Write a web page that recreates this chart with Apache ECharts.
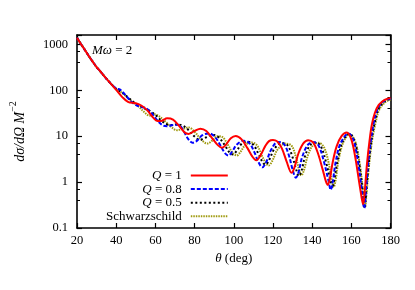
<!DOCTYPE html>
<html><head><meta charset="utf-8">
<script src="https://cdn.jsdelivr.net/npm/echarts@6/dist/echarts.min.js"></script>
<style>html,body{margin:0;padding:0;background:#fff}#c{width:415px;height:290px}</style>
</head><body><div id="c"></div>
<script>
var xTicks = [20, 40, 60, 80, 100, 120, 140, 160, 180];
var yTicks = [0.1, 1, 10, 100, 1000];
var seriesNames = ['Q = 1', 'Q = 0.8', 'Q = 0.5', 'Schwarzschild'];

var q1 = [[20,1400],[22,1020],[24,760],[26,560],[28,420],[30,320],[32,255],[34,200],[36,160],[38,128],[40,102],[43,72],[46,56],[50,52],[53,46],[56,36],[59,25],[61,21.5],[63,21.5],[66,24.5],[69,23],[72,17],[75,12],[77,11.2],[80,13],[83,14.6],[86,13],[89,9],[92,6.3],[94,5.6],[96,6.5],[98.5,9],[101,10.1],[104,8.5],[107,5.5],[109.5,3.6],[111.5,3],[113.5,3.7],[116,6],[118,7.8],[120,8.3],[122,7.8],[124.5,5.5],[127,2.8],[129.5,1.6],[131,2.1],[133,4.2],[135.5,7],[138,8.2],[140.5,7.3],[143,4.2],[145.5,1.8],[147,1.05],[148,0.87],[149,1.15],[150.5,2.7],[152.5,6],[155,10],[157.7,12],[160,8.5],[162,3.5],[164,1.0],[165.3,0.45],[166,0.33],[166.8,0.6],[168,2.5],[169.3,8],[170.5,18],[172,32],[174,48],[177,62],[180,68]];
var q08 = [[20,1400],[22,1020],[24,760],[26,560],[28,420],[30,320],[32,255],[34,200],[36,160],[38,130],[40,110],[42,103],[44,85],[46,68],[48,55],[50,48],[52,44],[55,41],[58,32],[61,22],[64,17],[66,16.5],[69,17.5],[71.5,17.8],[74,14],[76.5,9],[79,7.2],[81,7.8],[84,10.5],[87.5,11.5],[90.5,9.5],[93,6.5],[95.5,4.3],[97.3,3.8],[99,4.5],[101.5,6.5],[105,8],[108,7],[110.5,4.5],[112.5,2.8],[114.6,2.1],[116.5,2.7],[119,5],[122.5,7.5],[125.5,6.8],[128,4],[130,1.9],[131.7,1.25],[133,1.6],[135,3.6],[138,6.6],[141,7.4],[143.5,6],[146,2.8],[148.3,1.1],[149.5,0.68],[150.5,1.0],[152,2.7],[154.5,7],[158.7,11.5],[161,8.5],[163,3.5],[165,0.9],[166.6,0.27],[167.4,0.6],[168.5,2.3],[170,8],[171.5,20],[173.5,40],[176.5,58],[180,66]];
var q05 = [[20,1400],[22,1020],[24,760],[26,560],[28,420],[30,320],[32,255],[34,200],[36,160],[38,130],[40,108],[43,90],[46,70],[49,55],[52,46],[55,39],[57.5,35],[60,29],[63,22],[66,18],[68,17.5],[71,18],[74,17],[77,13.5],[80,9.8],[82.5,8.3],[85,9],[87.5,10.3],[90,10.6],[93,8.8],[96,5.8],[98,4.3],[99.5,4],[101.5,4.8],[104,6.8],[107,7.6],[110,6.5],[113,3.8],[115,2.6],[116.3,2.4],[118,3.0],[121,5.5],[124.5,7.1],[127.5,6.3],[130,3.5],[132,1.8],[133.2,1.35],[134.5,1.7],[136.5,3.8],[139,6.4],[142,7.3],[144.5,6],[147,2.8],[149.3,1.1],[150.3,0.74],[151.3,1.1],[153,3],[155.5,7.5],[159,11.3],[161.5,8.2],[163.5,3.5],[165.3,1.0],[166.8,0.27],[167.6,0.6],[168.8,2.3],[170.3,8],[172,20],[174,40],[177,57],[180,65]];
var schw = [[20,1400],[22,1020],[24,760],[26,560],[28,420],[30,320],[32,255],[34,200],[36,160],[38,128],[40,106],[43,88],[46,68],[49,53],[52,42],[54.5,33],[57,28],[59.5,30],[62,27],[65,21],[68,16],[71,13.5],[74,14.5],[77,15.5],[80,12.5],[83,8.8],[86.5,6.9],[89,8],[91.5,10],[94,9.7],[97,6.5],[99.5,4.3],[101.6,3.8],[103.5,4.6],[106,6.5],[109,7.3],[112,6.2],[115,3.3],[117.8,2.3],[119.5,2.8],[122.5,5.2],[126.5,6.9],[129.5,6.2],[131.5,3.8],[133.3,1.9],[134.5,1.4],[135.8,1.8],[137.8,3.8],[140.5,6.4],[143.3,7.2],[146,5.8],[148.3,2.8],[150,1.1],[151,0.78],[152,1.1],[153.5,3],[156,7.5],[159.3,11],[161.8,8],[163.8,3.4],[165.5,1.0],[167,0.28],[167.8,0.6],[169,2.2],[170.5,7.5],[172.3,19],[174.3,38],[177.3,55],[180,63]];

var FONT = 'Liberation Serif';
var chart = echarts.init(document.getElementById('c'), null, {renderer: 'canvas'});
function yFmt(v) {
  for (var i = 0; i < yTicks.length; i++) { if (Math.abs(v - yTicks[i]) < 1e-9 * yTicks[i] + 1e-12) return String(yTicks[i]); }
  return '';
}
var axisLineStyle = {color: '#000', width: 1.6};
var option = {
  animation: false,
  backgroundColor: '#fff',
  grid: {left: 72.5, right: 24.5, top: 35, bottom: 62, containLabel: false},
  xAxis: [{
    type: 'value', min: 20, max: 180, interval: 20, position: 'bottom',
    axisLine: {show: true, lineStyle: axisLineStyle},
    axisTick: {show: true, inside: true, length: 5, lineStyle: {color: '#000', width: 1.2}},
    axisLabel: {fontFamily: FONT, fontSize: 12.5, color: '#000', margin: 6},
    splitLine: {show: false},
    name: '{i|θ} (deg)', nameLocation: 'middle', nameGap: 24,
    nameTextStyle: {fontFamily: FONT, fontSize: 13, color: '#000', rich: {i: {fontFamily: FONT, fontStyle: 'italic', fontSize: 13, color: '#000'}}}
  }, {
    type: 'value', min: 20, max: 180, interval: 20, position: 'top',
    axisLine: {show: true, lineStyle: axisLineStyle},
    axisTick: {show: true, inside: true, length: 5, lineStyle: {color: '#000', width: 1.2}},
    axisLabel: {show: false}, splitLine: {show: false}
  }],
  yAxis: [{
    type: 'log', logBase: 10, min: 0.1, max: 1600, position: 'left',
    axisLine: {show: true, lineStyle: axisLineStyle},
    axisTick: {show: true, inside: true, length: 5, lineStyle: {color: '#000', width: 1.2}},
    minorTick: {show: true, splitNumber: 3, length: 3, lineStyle: {color: '#000', width: 1}},
    axisLabel: {fontFamily: FONT, fontSize: 12.5, color: '#000', margin: 9, formatter: yFmt, showMaxLabel: false},
    splitLine: {show: false},
    name: '{i|dσ/dΩ M}{s|−2}', nameLocation: 'middle', nameGap: 50, nameRotate: 90,
    nameTextStyle: {fontFamily: FONT, fontSize: 14, color: '#000', rich: {
      i: {fontFamily: FONT, fontStyle: 'italic', fontSize: 14, color: '#000', lineHeight: 19, verticalAlign: 'bottom'},
      s: {fontFamily: FONT, fontSize: 10, color: '#000', lineHeight: 19, verticalAlign: 'top'}}}
  }, {
    type: 'log', logBase: 10, min: 0.1, max: 1600, position: 'right',
    axisLine: {show: true, lineStyle: axisLineStyle},
    axisTick: {show: true, inside: true, length: 5, lineStyle: {color: '#000', width: 1.2}},
    minorTick: {show: true, splitNumber: 3, length: 3, lineStyle: {color: '#000', width: 1}},
    axisLabel: {show: false}, splitLine: {show: false}
  }],
  legend: {
    orient: 'vertical', align: 'right', left: 101, top: 164,
    itemWidth: 37, itemHeight: 12, itemGap: 0.6,
    itemStyle: {opacity: 0},
    textStyle: {fontFamily: FONT, fontSize: 13, color: '#000', padding: [0, 4, 0, 0],
      rich: {i: {fontFamily: FONT, fontStyle: 'italic', fontSize: 13, color: '#000'}}},
    formatter: function (n) { return n.indexOf('Q') === 0 ? '{i|Q}' + n.slice(1) : n; },
    data: seriesNames
  },
  graphic: [{
    type: 'text', left: 92, top: 44,
    style: {rich: {i: {fontFamily: FONT, fontStyle: 'italic', fontSize: 13, fill: '#000'}, n: {fontFamily: FONT, fontSize: 13, fill: '#000'}},
      text: '{i|Mω}{n| = 2}'}
  }],
  series: [
    {name: seriesNames[0], type: 'line', data: q1, smooth: 0.35, symbol: 'none', lineStyle: {color: '#ff0000', width: 2}, itemStyle: {color: '#ff0000'}, z: 5},
    {name: seriesNames[1], type: 'line', data: q08, smooth: 0.35, symbol: 'none', lineStyle: {color: '#0000ff', width: 2, type: [4, 2]}, itemStyle: {color: '#0000ff'}, z: 4},
    {name: seriesNames[2], type: 'line', data: q05, smooth: 0.35, symbol: 'none', lineStyle: {color: '#000000', width: 2, type: [2, 2.5]}, itemStyle: {color: '#000'}, z: 3},
    {name: seriesNames[3], type: 'line', data: schw, smooth: 0.35, symbol: 'none', lineStyle: {color: '#a09a10', width: 2, type: [1.5, 1]}, itemStyle: {color: '#a09a10'}, z: 2}
  ]
};
chart.setOption(option);
</script></body></html>
